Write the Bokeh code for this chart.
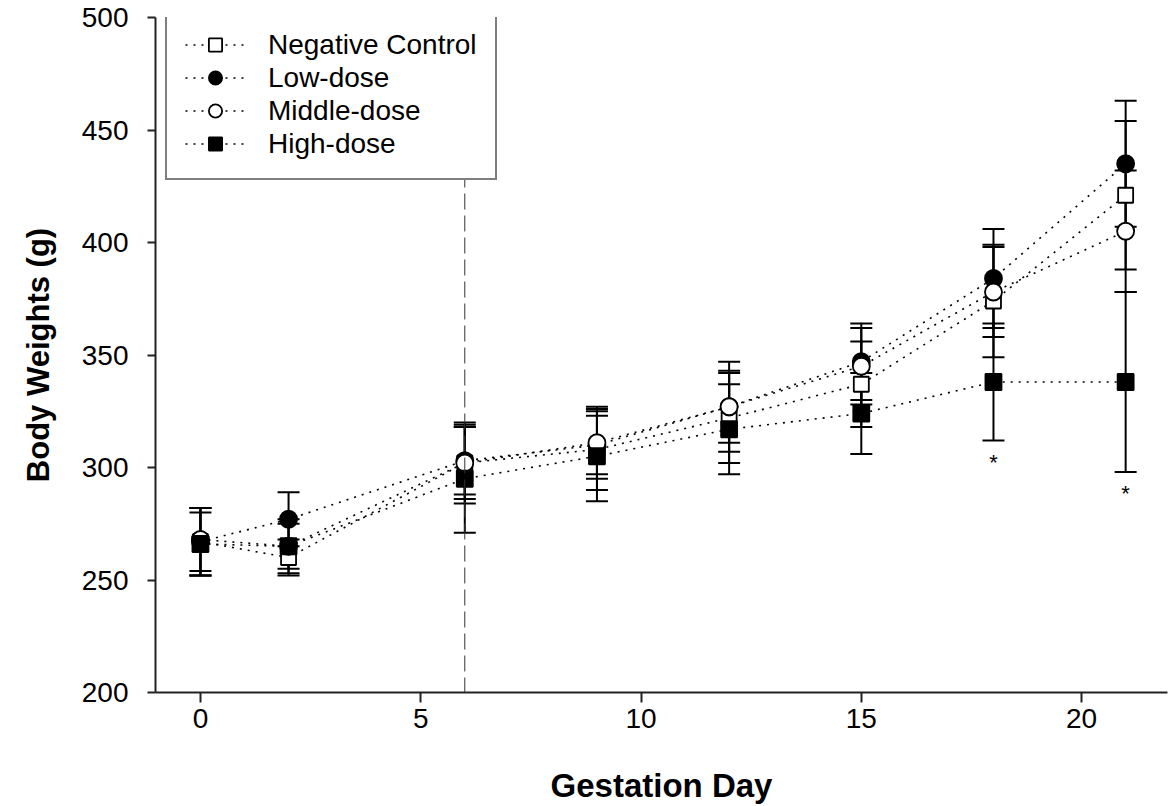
from bokeh.plotting import figure
from bokeh.models import (ColumnDataSource, Whisker, TeeHead, Legend, LegendItem,
                          Span, Range1d)
from bokeh.embed import file_html
from bokeh.resources import INLINE
from bokeh.core.properties import value

days = [0, 2, 6, 9, 12, 15, 18, 21]
series_names = ["Negative Control", "Low-dose", "Middle-dose", "High-dose"]
nc_mean = [267, 260, 302, 308, 322, 337, 374, 421]
nc_sd = [15, 8, 18, 18, 20, 19, 25, 33]
low_mean = [267, 277, 303, 310, 327, 347, 384, 435]
low_sd = [15, 12, 15, 13, 16, 17, 22, 28]
mid_mean = [268, 265, 302, 311, 327, 345, 378, 405]
mid_sd = [14, 10, 16, 16, 20, 17, 20, 27]
high_mean = [266, 265, 295, 305, 317, 324, 338, 338]
high_sd = [14, 12, 24, 20, 20, 18, 26, 40]
signif_days = [18, 21]
treatment_start_day = 6
x_ticks = [0, 5, 10, 15, 20]
y_ticks = [200, 250, 300, 350, 400, 450, 500]

FONT = "Liberation Sans"

p = figure(width=1170, height=806, output_backend="svg", toolbar_location=None,
           x_range=Range1d(-1.02, 21.95), y_range=Range1d(200, 500),
           min_border_left=155, min_border_right=3, min_border_top=17,
           min_border_bottom=111)
p.outline_line_color = None
p.grid.visible = False
p.background_fill_color = "white"
p.border_fill_color = "white"

for ax in (p.xaxis[0], p.yaxis[0]):
    ax.axis_line_color = "#222222"
    ax.axis_line_width = 2
    ax.major_tick_line_color = "#222222"
    ax.major_tick_line_width = 2
    ax.major_tick_in = 0
    ax.minor_tick_line_color = None
    ax.major_label_text_font = FONT
    ax.major_label_text_font_size = "28px"
    ax.major_label_text_color = "black"
    ax.axis_label_text_font = FONT
    ax.axis_label_text_font_style = "bold"
    ax.axis_label_text_color = "black"

p.xaxis.ticker = x_ticks
p.yaxis.ticker = y_ticks
p.xaxis.major_tick_out = 10
p.yaxis.major_tick_out = 8
p.xaxis.major_label_standoff = 6
p.yaxis.major_label_standoff = 19
p.xaxis.axis_label = "Gestation Day"
p.yaxis.axis_label = "Body Weights (g)"
p.xaxis.axis_label_text_font_size = "33px"
p.yaxis.axis_label_text_font_size = "31px"
p.xaxis.axis_label_standoff = 36
p.yaxis.axis_label_standoff = 23

span = Span(location=treatment_start_day, dimension="height", line_color="#333333",
            line_width=1, line_dash="16 6")
p.add_layout(span)

means = [nc_mean, low_mean, mid_mean, high_mean]
sds = [nc_sd, low_sd, mid_sd, high_sd]
sources = []
for m, s in zip(means, sds):
    src = ColumnDataSource(dict(x=days, y=m,
                                upper=[a + b for a, b in zip(m, s)],
                                lower=[a - b for a, b in zip(m, s)]))
    sources.append(src)
    w = Whisker(source=src, base="x", upper="upper", lower="lower",
                line_color="black", line_width=2,
                upper_head=TeeHead(size=22, line_width=2, line_color="black"),
                lower_head=TeeHead(size=22, line_width=2, line_color="black"))
    p.add_layout(w)

lines = []
for src in sources:
    lines.append(p.line("x", "y", source=src, line_color="black", line_width=1.6,
                        line_dash="2 6"))

marker_specs = [("square", "white", 15), ("circle", "black", 17),
                ("circle", "white", 17), ("square", "black", 16)]
markers = []
for i in range(4):
    mk, fill, size = marker_specs[i]
    markers.append(p.scatter("x", "y", source=sources[i], marker=mk, size=size,
                             fill_color=fill, line_color="black", line_width=1.8))

star_src = ColumnDataSource(dict(
    x=signif_days,
    y=[high_mean[days.index(d)] - high_sd[days.index(d)] - 4 for d in signif_days],
    t=["*" for _ in signif_days]))
p.text("x", "y", text="t", source=star_src, text_font=value(FONT),
       text_font_size="22px", text_align="center", text_baseline="top",
       text_color="black")

legend = Legend(items=[LegendItem(label=series_names[i], renderers=[lines[i], markers[i]])
                       for i in range(4)],
                location=(10, 512), padding=18, spacing=0,
                glyph_width=60, glyph_height=33, label_height=30, label_standoff=23,
                label_text_font=FONT, label_text_font_size="28px",
                label_text_color="black",
                border_line_color="black", border_line_width=2,
                background_fill_color="white", background_fill_alpha=1.0,
                margin=0)
p.add_layout(legend)

open("out.html", "w").write(file_html(p, INLINE))
